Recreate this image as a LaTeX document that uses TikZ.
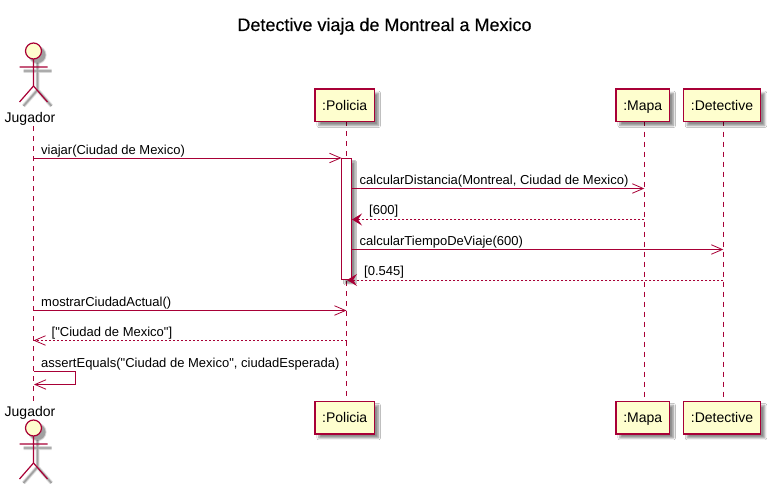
\documentclass[tikz,border=0pt]{standalone}
\usepackage{fontspec}
\setmainfont{Liberation Sans}
\newfontfamily\plainfont{Liberation Sans}
\newfontfamily\titlefont[FakeBold=0.25]{Liberation Sans}
\usetikzlibrary{arrows.meta,shadows.blur}
\definecolor{umlline}{HTML}{A80036}
\definecolor{umlfill}{HTML}{FEFECE}
\tikzset{
  part/.style={draw=umlline,fill=umlfill,line width=1.2pt,minimum height=32.5pt,inner sep=0pt,
    text height=11.5pt,text depth=2pt,
    font=\plainfont\fontsize{14}{16}\selectfont,
    blur shadow={shadow xshift=4pt,shadow yshift=-4pt,shadow blur radius=2pt,shadow opacity=45,shadow blur steps=6}},
  life/.style={draw=umlline,line width=.8pt,dash pattern=on 5pt off 5pt},
  msg/.style={draw=umlline,line width=1pt},
  ret/.style={draw=umlline,line width=1pt,dash pattern=on 2pt off 2pt},
  openhead/.style={-{Straight Barb[length=11pt,width=9.5pt,line width=.8pt]}},
  solidhead/.style={-{Stealth[length=10pt,width=12pt,inset=4pt]}},
  lbl/.style={anchor=base west,inner sep=0pt,font=\plainfont\fontsize{13}{15}\selectfont,text=black},
  actorname/.style={anchor=base,inner sep=0pt,font=\plainfont\fontsize{14}{16}\selectfont,text=black},
  actorline/.style={draw=umlline,line width=1.2pt},
  actorhead/.style={circle,draw=umlline,fill=umlfill,line width=1.2pt,minimum size=16pt,inner sep=0pt},
}
\newcommand{\actorshape}[3]{% x, y of head centre, name
  \begin{scope}[shift={(#1,#2)}]
    \foreach \w/\o in {4/.10,2.6/.14,1.4/.18}{
      \draw[line width=\w pt,black,opacity=\o,shift={(4,4)}] (-14,16) -- (14,16) (0,8) -- (0,35) (-14,51) -- (0,35) -- (14,51);
      \fill[black,opacity=\o,shift={(4,4)}] (0,0) circle (7.2+\w/2);
    }
    \draw[actorline] (-14,16) -- (14,16) (0,8) -- (0,35) (-14,51) -- (0,35) -- (14,51);
    \node[actorhead] (#3) at (0,0) {};
  \end{scope}
}
\begin{document}
\begin{tikzpicture}[x=1pt,y=-1pt]
\useasboundingbox (0,0) rectangle (773,484);
\fill[white] (0,0) rectangle (773,484);

% lifeline end points
\coordinate (jugT) at (33.5,126);  \coordinate (jugB) at (33.5,401);
\coordinate (polT) at (346.5,121); \coordinate (polB) at (346.5,401);
\coordinate (mapT) at (644.3,121.5); \coordinate (mapB) at (644.3,401);
\coordinate (detT) at (723.3,121.5); \coordinate (detB) at (723.3,401);
\draw[life] (jugT) -- (jugB);
\draw[life] (polT) -- (polB);
\draw[life] (mapT) -- (mapB);
\draw[life] (detT) -- (detB);

\node[anchor=base,inner sep=0pt,font=\titlefont\fontsize{18}{20}\selectfont] (title) at (384.5,31) {Detective viaja de Montreal a Mexico};

% participants
\node[part,minimum width=59.5pt] (pol1) at (344.7,105.3) {:Policia};
\node[part,minimum width=53.5pt] (map1) at (642.7,105.3) {:Mapa};
\node[part,minimum width=77.5pt] (det1) at (722,105.3) {:Detective};
\node[part,minimum width=59.5pt] (pol2) at (344.7,417.7) {:Policia};
\node[part,minimum width=53.5pt] (map2) at (642.7,417.7) {:Mapa};
\node[part,minimum width=77.5pt] (det2) at (722,417.7) {:Detective};

% actors
\actorshape{33.5}{51}{jugHead1}
\node[actorname] (jugName1) at (30,123) {Jugador};
\node[actorname] (jugName2) at (30,416) {Jugador};
\actorshape{33.5}{428}{jugHead2}

% activation bar
\node[draw=umlline,fill=white,line width=1pt,minimum width=10pt,minimum height=121.5pt,inner sep=0pt,
  blur shadow={shadow xshift=3.5pt,shadow yshift=-3.5pt,shadow blur radius=1.5pt,shadow opacity=45,shadow blur steps=5}] (act) at (346.5,219.2) {};

% message end points
\coordinate (a1) at (33.5,158);    \coordinate (b1) at (341.5,158);
\coordinate (a2) at (351.5,188.5); \coordinate (b2) at (644.3,188.5);
\coordinate (a3) at (644.3,219.5); \coordinate (b3) at (352,219.5);
\coordinate (a4) at (351.5,249.5); \coordinate (b4) at (723.3,249.5);
\coordinate (a5) at (723.3,280);   \coordinate (b5) at (347,280);
\coordinate (a6) at (33.5,310.5);  \coordinate (b6) at (346.5,310.5);
\coordinate (a7) at (346.5,340.5); \coordinate (b7) at (33.5,340.5);
\coordinate (a8) at (33.5,371.5);  \coordinate (c8) at (75.5,371.5);
\coordinate (d8) at (75.5,384.5);  \coordinate (b8) at (34,384.5);

\draw[msg,openhead] (a1) -- (b1);
\draw[msg,openhead] (a2) -- (b2);
\draw[ret,solidhead] (a3) -- (b3);
\draw[msg,openhead] (a4) -- (b4);
\draw[ret,solidhead] (a5) -- (b5);
\draw[msg,openhead] (a6) -- (b6);
\draw[ret,openhead] (a7) -- (b7);
\draw[msg,openhead] (a8) -- (c8) -- (d8) -- (b8);

\node[lbl] (t1) at (41,154) {viajar(Ciudad de Mexico)};
\node[lbl] (t2) at (359.5,184.5) {calcularDistancia(Montreal, Ciudad de Mexico)};
\node[lbl] (t3) at (369,214.5) {[600]};
\node[lbl] (t4) at (359.5,245.5) {calcularTiempoDeViaje(600)};
\node[lbl] (t5) at (364,275.5) {[0.545]};
\node[lbl] (t6) at (41,306.5) {mostrarCiudadActual()};
\node[lbl] (t7) at (51.5,336.5) {["Ciudad de Mexico"]};
\node[lbl] (t8) at (41,367) {assertEquals("Ciudad de Mexico", ciudadEsperada)};
\end{tikzpicture}
\end{document}
